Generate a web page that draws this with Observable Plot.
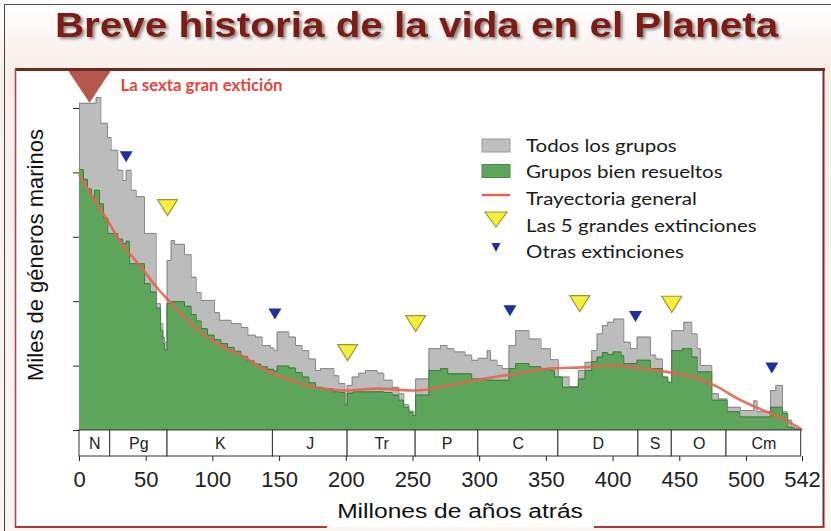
<!DOCTYPE html>
<html><head><meta charset="utf-8">
<script src="https://cdn.jsdelivr.net/npm/d3@7"></script>
<script src="https://cdn.jsdelivr.net/npm/@observablehq/plot@0.6"></script>
<style>
html,body{margin:0;padding:0;background:#fff;}
#wrap{position:relative;width:831px;height:531px;overflow:hidden;background:linear-gradient(180deg,#ffffff 0px,#f8efe9 66px,#fbf6f2 531px);font-family:"Liberation Sans",Arial,sans-serif;}
#inner{position:absolute;left:15px;top:69px;width:808px;height:458px;background:#fff;}
#chart{position:absolute;left:0;top:68px;}
#overlay{position:absolute;left:0;top:0;pointer-events:none;}
</style></head><body>
<div id="wrap"><div id="inner"></div><div id="chart"></div><svg id="overlay" width="831" height="531"></svg></div>
<script>
// ---- data (Ma, thousands of genera) ----
const allGroups = [
[0,5.08],[12.5,5.17],[16,4.77],[21,4.55],[23.7,4.35],[28.7,4.04],[32.5,3.88],[35,4.04],[38.7,3.73],[42.5,3.63],
[48.7,3.06],[57.5,1.97],[60.7,1.66],[62.5,1.45],[63.7,1.37],[65.7,2.64],[68.7,2.95],[71.2,2.89],[78.7,2.73],[83.7,2.38],
[87.5,2.14],[91.2,2.02],[101.2,1.83],[105,1.71],[113.7,1.66],[121.2,1.60],[126.2,1.48],[131.9,1.45],[137,1.32],[143.2,1.28],
[145.7,1.24],[148.2,1.53],[156.9,1.45],[161.9,1.32],[166.9,1.24],[171.9,1.11],[176.9,0.93],[180.7,0.96],[190.7,0.85],[194.4,0.73],
[199,0.42],[200.7,0.70],[204.4,0.83],[209.4,0.89],[214.4,0.93],[223.2,0.89],[228.1,0.78],[234.4,0.67],[239.4,0.57],[243.1,0.40],
[246.9,0.30],[250.6,0.23],[252,0.80],[262,1.27],[270.6,1.32],[275.6,1.27],[280.6,1.22],[289,1.17],[294,1.09],[299,1.12],
[305.6,1.24],[308.1,1.09],[313,1.01],[316.9,0.96],[322,1.32],[327,1.55],[337,1.42],[346,1.27],[353,1.10],[359,0.83],
[367,0.68],[374,0.93],[379,1.06],[384,1.24],[388,1.50],[392,1.63],[396,1.68],[400.5,1.73],[408,1.37],[413,1.27],
[418,1.45],[428,1.17],[432,1.11],[437,0.81],[441,0.72],[444,1.55],[453,1.68],[459,1.50],[463,1.27],[465.5,1.01],
[474,0.57],[479,0.49],[485.5,0.36],[495.5,0.31],[505.5,0.46],[508,0.29],[518,0.62],[522,0.70],[527,0.29],[530.5,0.16],
[534,0.03],[541,0]
];
const wellResolved = [
[0,4.05],[3,3.90],[6,3.75],[9,3.62],[11.2,3.73],[15,3.52],[18,3.30],[21.2,3.06],[28.7,2.97],[32.5,2.90],
[35,2.94],[37.5,2.59],[48.7,2.28],[53,2.15],[57.5,1.90],[60.7,1.55],[62.5,1.35],[63.7,1.25],[65.7,1.97],[68.7,2.00],
[78.7,1.93],[83.7,1.80],[87.5,1.70],[91.2,1.58],[96,1.48],[101,1.41],[106,1.35],[111,1.29],[116,1.23],[121,1.15],
[126,1.08],[131,1.03],[136,0.99],[141,0.95],[145.7,0.92],[148.2,1.00],[157,0.97],[162,0.90],[167,0.83],[172,0.74],
[177,0.67],[182,0.65],[190,0.60],[195,0.59],[199,0.39],[200.7,0.58],[205,0.60],[228,0.59],[234.4,0.55],[239.4,0.47],
[243,0.36],[246.9,0.28],[250,0.23],[252,0.55],[262,0.93],[270.6,0.96],[276,0.88],[294,0.80],[305,0.78],[322,0.96],
[327,1.04],[337,0.99],[346,0.96],[353,0.93],[356,0.83],[362,0.67],[374,0.80],[379,0.93],[384,1.07],[388,1.14],
[392,1.21],[396,1.18],[400,1.22],[406,1.16],[408,1.04],[418,1.09],[428,0.96],[437,0.83],[441,0.75],[444,1.24],
[452,1.27],[459,1.14],[463,0.91],[474,0.47],[485.5,0.29],[495,0.21],[518,0.36],[527,0.26],[531,0.05],[536,0.02],
[541,0]
];
const trend = [
[0,3.96],[10,3.62],[21,3.26],[30,2.95],[46,2.54],[58,2.22],[69,1.97],[80,1.73],[96,1.45],[110,1.27],
[124,1.14],[131,1.04],[149,0.85],[162,0.76],[174,0.68],[187,0.64],[199,0.62],[224,0.65],[252,0.62],[277,0.70],
[302,0.80],[327,0.88],[352,0.96],[377,0.98],[402,1.01],[416,0.98],[440,0.91],[465,0.80],[478,0.68],[492,0.51],
[506,0.37],[520,0.25],[532,0.13],[541,0.02]
];
const periodNames  = ["N","Pg","K","J","Tr","P","C","D","S","O","Cm"];
const periodStarts = [0,23,66,145,201,252,299,359,419,444,485];
const periodEnds   = [23,66,145,201,252,299,359,419,444,485,541];
const bigAge = [66,201,252,375,444];
const bigVal = [3.46,1.21,1.66,1.97,1.96];
const otherAge = [35,146.5,322.7,416.8,519];
const otherVal = [4.25,1.81,1.86,1.77,0.97];
const sixthAge = [7.5];
const sixthVal = [5.34];
const sixthLabel = "La sexta gran extición";
const xTicks = [0,50,100,150,200,250,300,350,400,450,500,542];
const yTicks = [0,1,2,3,4,5];
const legendLabels = ["Todos los grupos","Grupos bien resueltos","Trayectoria general","Las 5 grandes extinciones","Otras extinciones"];

// ---- build ----
const periods = periodNames.map((n,i)=>({name:n,x1:periodStarts[i],x2:periodEnds[i]}));
const big = bigAge.map((a,i)=>({a,v:bigVal[i]}));
const other = otherAge.map((a,i)=>({a,v:otherVal[i]}));
const sixth = sixthAge.map((a,i)=>({a,v:sixthVal[i]}));
const boxBottom = -0.404;

function downTri(k){
  return {draw(ctx,size){const r=Math.sqrt(size/Math.PI);const h=k*r;ctx.moveTo(-r,-h);ctx.lineTo(r,-h);ctx.lineTo(0,h);ctx.closePath();}};
}

const chart = Plot.plot({
  width:831, height:463,
  marginLeft:79, marginRight:29, marginTop:0, marginBottom:75,
  x:{domain:[0,542]},
  y:{domain:[boxBottom,5.621]},
  style:{background:"transparent",fontFamily:"Liberation Sans, Arial, sans-serif",color:"#222",overflow:"visible"},
  marks:[
    Plot.areaY(allGroups,{x:d=>d[0],y1:0,y2:d=>d[1],curve:"step-after",fill:"#bcbcbc"}),
    Plot.lineY(allGroups,{x:d=>d[0],y:d=>d[1],curve:"step-after",stroke:"#858585",strokeWidth:1}),
    Plot.ruleX([allGroups[0]],{x:d=>d[0],y1:0,y2:d=>d[1],stroke:"#858585"}),
    Plot.areaY(wellResolved,{x:d=>d[0],y1:0,y2:d=>d[1],curve:"step-after",fill:"#5ca55a"}),
    Plot.lineY(wellResolved,{x:d=>d[0],y:d=>d[1],curve:"step-after",stroke:"#3f7c3d",strokeWidth:1}),
    Plot.line(trend,{x:d=>d[0],y:d=>d[1],curve:"monotone-x",stroke:"#e4644f",strokeWidth:2.6,strokeOpacity:0.9}),
    Plot.rect(periods,{x1:"x1",x2:"x2",y1:boxBottom,y2:0,fill:"#fff",stroke:"#333",strokeWidth:1}),
    Plot.text(periods,{x:d=>(d.x1+d.x2)/2,y:boxBottom/2,text:"name",fontSize:16,fill:"#222"}),
    Plot.axisX({ticks:xTicks,tickSize:5,tickPadding:10,fontSize:22,label:null,tickFormat:d=>String(d)}),
    Plot.axisY({ticks:yTicks,tickSize:6,tickFormat:()=>"",label:null}),
    Plot.dot(big,{x:"a",y:"v",symbol:downTri(0.8),r:10,fill:"#f4ef3b",stroke:"#9d9a3c",strokeWidth:1.2}),
    Plot.dot(other,{x:"a",y:"v",symbol:downTri(0.85),r:6.5,fill:"#1e2f9f",stroke:"none"}),
    Plot.dot(sixth,{x:"a",y:"v",symbol:downTri(0.75),r:21.5,fill:"#b5574c",stroke:"none"}),
    Plot.text(sixth,{x:d=>d.a+23.2,y:d=>d.v+0.02,text:()=>sixthLabel,textAnchor:"start",fontSize:16.8,fontWeight:"bold",fontFamily:"Lato, Open Sans, sans-serif",fill:"#e2473a"})
  ]
});
document.getElementById("chart").appendChild(chart);

// ---- overlay: title, axis labels, legend, frame ----
const ov = d3.select("#overlay");
const defs = ov.append("defs");
const f = defs.append("filter").attr("id","sh").attr("x","-5%").attr("y","-20%").attr("width","110%").attr("height","150%");
f.append("feDropShadow").attr("dx",2).attr("dy",2).attr("stdDeviation",1.4).attr("flood-color","#000").attr("flood-opacity",0.45);

ov.append("text").attr("transform","translate(416.5,36.7) scale(1.155,1)")
  .attr("text-anchor","middle").attr("font-family","Liberation Sans, Arial, sans-serif")
  .attr("font-weight","bold").attr("font-size",35).attr("fill","#7c1d15").attr("filter","url(#sh)")
  .text("Breve historia de la vida en el Planeta");

ov.append("text").attr("transform","translate(460,518) scale(1.17,1)")
  .attr("text-anchor","middle").attr("font-family","Liberation Sans, Arial, sans-serif")
  .attr("font-size",21).attr("fill","#111").text("Millones de años atrás");

ov.append("text").attr("transform","translate(43,255) rotate(-90)")
  .attr("text-anchor","middle").attr("font-family","Liberation Sans, Arial, sans-serif")
  .attr("font-size",22).attr("fill","#111").text("Miles de géneros marinos");

// legend
const lg = ov.append("g");
const base = [152,178,205,232,258];
legendLabels.forEach((t,i)=>{
  lg.append("text").attr("transform",`translate(526,${base[i]}) scale(1.14,1)`).attr("font-family","Lato, Open Sans, sans-serif")
    .attr("font-size",18).attr("fill","#1a1a1a").text(t);
});
lg.append("rect").attr("x",482).attr("y",139).attr("width",28).attr("height",13).attr("fill","#bfbfbf").attr("stroke","#9a9a9a");
lg.append("rect").attr("x",482).attr("y",164.5).attr("width",28).attr("height",13).attr("fill","#5ca55a").attr("stroke","#4a8a48");
lg.append("line").attr("x1",482).attr("x2",510).attr("y1",195).attr("y2",195).attr("stroke","#e4644f").attr("stroke-width",2.5);
lg.append("path").attr("d","M485,212L507,212L496,227Z").attr("fill","#f4ef3b").attr("stroke","#9d9a3c").attr("stroke-width",1.2);
lg.append("path").attr("d","M491.5,243L500.5,243L496,252Z").attr("fill","#1e2f9f");

// frame
const fr = ov.append("g");
fr.append("line").attr("x1",4.5).attr("x2",4.5).attr("y1",4).attr("y2",531).attr("stroke","#444").attr("stroke-width",1);
fr.append("line").attr("x1",4).attr("x2",831).attr("y1",4.5).attr("y2",4.5).attr("stroke","#555").attr("stroke-width",1);
fr.append("line").attr("x1",15).attr("x2",825).attr("y1",69.5).attr("y2",69.5).attr("stroke","#6d2a22").attr("stroke-width",3);
fr.append("line").attr("x1",15.5).attr("x2",15.5).attr("y1",69).attr("y2",528).attr("stroke","#b04848").attr("stroke-width",1.6);
fr.append("line").attr("x1",823.5).attr("x2",823.5).attr("y1",69).attr("y2",528).attr("stroke","#7a2a25").attr("stroke-width",2);
fr.append("line").attr("x1",15).attr("x2",327).attr("y1",527).attr("y2",527).attr("stroke","#a83a3a").attr("stroke-width",2);
fr.append("line").attr("x1",594).attr("x2",824).attr("y1",527).attr("y2",527).attr("stroke","#a83a3a").attr("stroke-width",2);
</script></body></html>
